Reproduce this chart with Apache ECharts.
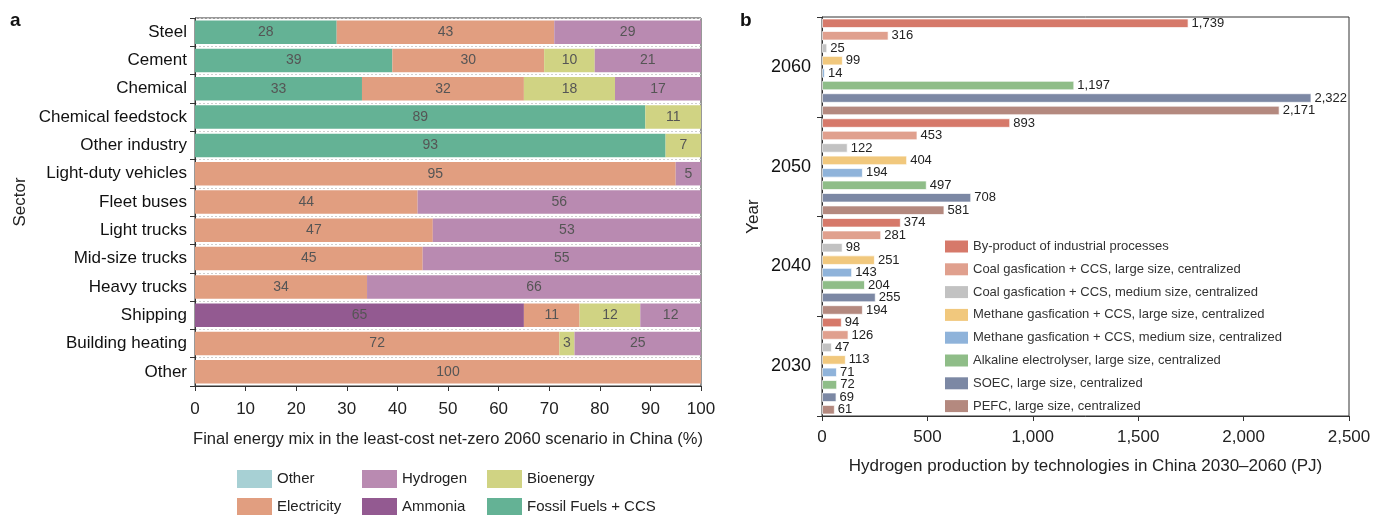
<!DOCTYPE html>
<html>
<head>
<meta charset="utf-8">
<script src="https://cdn.jsdelivr.net/npm/echarts@6/dist/echarts.min.js"></script>
<style>
html,body{margin:0;padding:0;background:#fff;}
#chart{width:1375px;height:515px;}
</style>
</head>
<body>
<div id="chart"></div>
<script>
// ---- Panel a data ----
var sectors = ['Steel','Cement','Chemical','Chemical feedstock','Other industry','Light-duty vehicles','Fleet buses','Light trucks','Mid-size trucks','Heavy trucks','Shipping','Building heating','Other'];
var fossilCCS   = [28,39,33,89,93,0,0,0,0,0,0,0,0];
var ammonia     = [0,0,0,0,0,0,0,0,0,0,65,0,0];
var electricity = [43,30,32,0,0,95,44,47,45,34,11,72,100];
var bioenergy   = [0,10,18,11,7,0,0,0,0,0,12,3,0];
var hydrogen    = [29,21,17,0,0,5,56,53,55,66,12,25,0];
var otherMix    = [0,0,0,0,0,0,0,0,0,0,0,0,0];
var pctTicks = [0,10,20,30,40,50,60,70,80,90,100];

// ---- Panel b data ----
var years = ['2030','2040','2050','2060'];
var byProduct     = [94,374,893,1739];
var coalLarge     = [126,281,453,316];
var coalMedium    = [47,98,122,25];
var methaneLarge  = [113,251,404,99];
var methaneMedium = [71,143,194,14];
var alkaline      = [72,204,497,1197];
var soec          = [69,255,708,2322];
var pefc          = [61,194,581,2171];

var FONT = "'Liberation Sans', Arial, Helvetica, sans-serif";

var chart = echarts.init(document.getElementById('chart'));

function mixSeries(name, data, color) {
  return {
    name: name, type: 'bar', stack: 'mix', xAxisIndex: 0, yAxisIndex: 0,
    data: data, barCategoryGap: '17%',
    itemStyle: { color: color },
    label: {
      show: true, position: 'inside', color: '#555', fontSize: 14, fontFamily: FONT,
      formatter: function (p) { return p.value ? String(p.value) : ''; }
    }
  };
}
function h2Series(name, data, color) {
  return {
    name: name, type: 'bar', xAxisIndex: 1, yAxisIndex: 1,
    data: data, barCategoryGap: '3%', barGap: '30%',
    itemStyle: { color: color, borderColor: 'rgba(255,255,255,0.7)', borderWidth: 1 },
    label: {
      show: true, position: 'right', distance: 3, color: '#222', fontSize: 13, fontFamily: FONT,
      formatter: function (p) { return Number(p.value).toLocaleString('en-US'); }
    }
  };
}
function mixLegend(name, left, top) {
  return { data: [name], left: left, top: top, itemWidth: 35, itemHeight: 18,
    icon: 'rect', selectedMode: false, itemStyle: { borderWidth: 0 },
    textStyle: { fontSize: 15, color: '#222', fontFamily: FONT } };
}

var option = {
  backgroundColor: '#fff',
  animation: false,
  textStyle: { fontFamily: FONT },
  title: [
    { text: 'a', left: 5, top: 6, textStyle: { fontSize: 19, fontWeight: 'bold', color: '#111', fontFamily: FONT } },
    { text: 'b', left: 735, top: 6, textStyle: { fontSize: 19, fontWeight: 'bold', color: '#111', fontFamily: FONT } }
  ],
  legend: [
    mixLegend('Other', 232, 465),
    mixLegend('Hydrogen', 357, 465),
    mixLegend('Bioenergy', 482, 465),
    mixLegend('Electricity', 232, 493),
    mixLegend('Ammonia', 357, 493),
    mixLegend('Fossil Fuels + CCS', 482, 493),
    { data: ['By-product of industrial processes','Coal gasfication + CCS, large size, centralized','Coal gasfication + CCS, medium size, centralized','Methane gasfication + CCS, large size, centralized','Methane gasfication + CCS, medium size, centralized','Alkaline electrolyser, large size, centralized','SOEC, large size, centralized','PEFC, large size, centralized'],
      orient: 'vertical', left: 940, top: 235, itemWidth: 23, itemHeight: 12, itemGap: 9.8,
      icon: 'rect', selectedMode: false, itemStyle: { borderWidth: 0 },
      textStyle: { fontSize: 13, color: '#333', fontFamily: FONT } }
  ],
  grid: [
    { left: 195, right: 674, top: 18, height: 368, show: true, borderColor: '#333', borderWidth: 1, backgroundColor: 'transparent' },
    { left: 822, right: 26, top: 17, height: 399, show: true, borderColor: '#333', borderWidth: 1, backgroundColor: 'transparent' }
  ],
  xAxis: [
    { gridIndex: 0, type: 'value', min: pctTicks[0], max: pctTicks[pctTicks.length - 1], interval: 10,
      name: 'Final energy mix in the least-cost net-zero 2060 scenario in China (%)',
      nameLocation: 'middle', nameGap: 45, nameTextStyle: { fontSize: 16.5, color: '#222', fontFamily: FONT },
      axisLine: { show: true, lineStyle: { color: '#333' } },
      axisTick: { show: true, length: 5, lineStyle: { color: '#333' } },
      axisLabel: { fontSize: 17, color: '#222', margin: 15, fontFamily: FONT },
      splitLine: { show: false } },
    { gridIndex: 1, type: 'value', min: 0, max: 2500, interval: 500,
      name: 'Hydrogen production by technologies in China 2030\u20132060 (PJ)',
      nameLocation: 'middle', nameGap: 42, nameTextStyle: { fontSize: 17, color: '#222', fontFamily: FONT },
      axisLine: { show: true, lineStyle: { color: '#333' } },
      axisTick: { show: true, length: 5, lineStyle: { color: '#333' } },
      axisLabel: { fontSize: 17, color: '#222', margin: 13, fontFamily: FONT,
        formatter: function (v) { return Number(v).toLocaleString('en-US'); } },
      splitLine: { show: false } }
  ],
  yAxis: [
    { gridIndex: 0, type: 'category', data: sectors, inverse: true,
      name: 'Sector', nameLocation: 'middle', nameGap: 166, nameRotate: 90,
      nameTextStyle: { fontSize: 17, color: '#222', fontFamily: FONT },
      axisLine: { show: true, lineStyle: { color: '#333' } },
      axisTick: { show: true, length: 5, lineStyle: { color: '#333' } },
      axisLabel: { fontSize: 17, color: '#111', margin: 8, fontFamily: FONT },
      splitLine: { show: true, lineStyle: { color: '#cfcfcf', type: [2, 2], width: 1 } } },
    { gridIndex: 1, type: 'category', data: years,
      name: 'Year', nameLocation: 'middle', nameGap: 60, nameRotate: 90,
      nameTextStyle: { fontSize: 17, color: '#222', fontFamily: FONT },
      axisLine: { show: true, lineStyle: { color: '#333' } },
      axisTick: { show: true, length: 5, lineStyle: { color: '#333' } },
      axisLabel: { fontSize: 18, color: '#111', margin: 11, fontFamily: FONT },
      splitLine: { show: false } }
  ],
  series: [
    mixSeries('Fossil Fuels + CCS', fossilCCS, '#64b295'),
    mixSeries('Ammonia', ammonia, '#935a91'),
    mixSeries('Electricity', electricity, '#e19e80'),
    mixSeries('Bioenergy', bioenergy, '#d0d383'),
    mixSeries('Hydrogen', hydrogen, '#b98ab1'),
    mixSeries('Other', otherMix, '#a7d0d4'),
    h2Series('By-product of industrial processes', byProduct, '#d6796a'),
    h2Series('Coal gasfication + CCS, large size, centralized', coalLarge, '#e0a08e'),
    h2Series('Coal gasfication + CCS, medium size, centralized', coalMedium, '#c2c2c2'),
    h2Series('Methane gasfication + CCS, large size, centralized', methaneLarge, '#f1c87d'),
    h2Series('Methane gasfication + CCS, medium size, centralized', methaneMedium, '#8fb3da'),
    h2Series('Alkaline electrolyser, large size, centralized', alkaline, '#8fbd88'),
    h2Series('SOEC, large size, centralized', soec, '#7c88a4'),
    h2Series('PEFC, large size, centralized', pefc, '#b4897f')
  ]
};
chart.setOption(option);
</script>
</body>
</html>
